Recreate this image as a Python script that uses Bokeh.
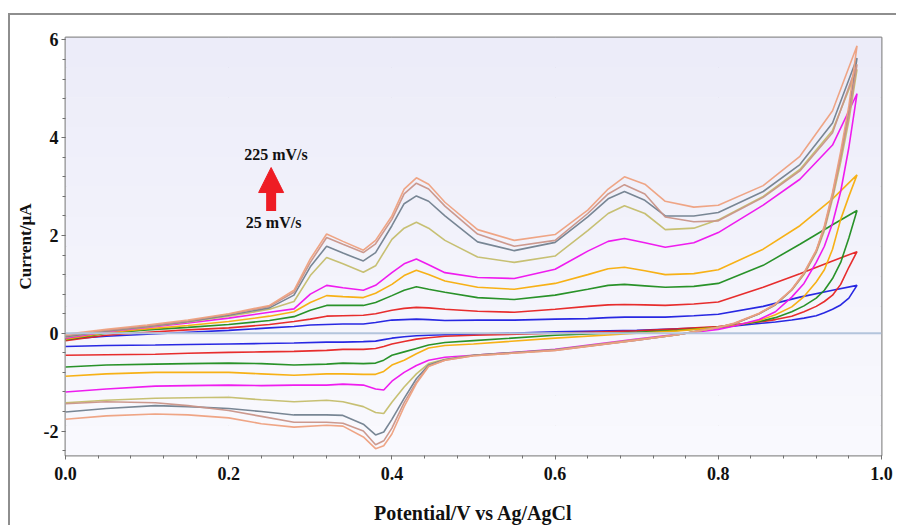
from bokeh.plotting import figure
from bokeh.models import (Range1d, FixedTicker, PrintfTickFormatter, Span, Arrow,
                          NormalHead, Label, BoxAnnotation)
from bokeh.embed import file_html
from bokeh.resources import INLINE

# ---------------- data ----------------
scan_rates = [25, 50, 75, 100, 125, 150, 175, 200, 225]  # mV/s
colors = ["#1c1ce0", "#e62222", "#1e8c1e", "#f7ad0a", "#ee10ee",
          "#c4bd6c", "#71808e", "#c99488", "#eea07e"]

x_fwd = [0.0, 0.05, 0.1, 0.15, 0.2, 0.25, 0.28, 0.30, 0.32, 0.34, 0.365, 0.38, 0.40,
         0.415, 0.43, 0.445, 0.465, 0.505, 0.55, 0.60, 0.64, 0.665, 0.685, 0.71,
         0.735, 0.77, 0.80, 0.855, 0.90, 0.94, 0.97]
x_rev = [0.97, 0.96, 0.95, 0.94, 0.93, 0.92, 0.905, 0.89, 0.87, 0.85, 0.82, 0.80,
         0.75, 0.70, 0.60, 0.50, 0.465, 0.445, 0.43, 0.415, 0.40, 0.39, 0.38, 0.365,
         0.34, 0.32, 0.28, 0.24, 0.20, 0.15, 0.11, 0.05, 0.0]

fwd_25 = [-0.12, -0.06, -0.02, 0.02, 0.06, 0.11, 0.14, 0.17, 0.18, 0.19, 0.19, 0.22, 0.27,
          0.28, 0.29, 0.28, 0.26, 0.27, 0.27, 0.29, 0.30, 0.32, 0.33, 0.33, 0.33, 0.36,
          0.39, 0.55, 0.74, 0.88, 0.98]
fwd_50 = [-0.15, -0.04, 0.02, 0.07, 0.11, 0.18, 0.24, 0.29, 0.35, 0.36, 0.37, 0.40, 0.47,
          0.51, 0.53, 0.52, 0.49, 0.45, 0.43, 0.49, 0.55, 0.58, 0.59, 0.58, 0.57, 0.60,
          0.64, 0.94, 1.22, 1.48, 1.67]
fwd_75 = [-0.13, 0.00, 0.07, 0.12, 0.18, 0.26, 0.34, 0.47, 0.57, 0.57, 0.57, 0.63, 0.77,
          0.88, 0.95, 0.90, 0.84, 0.73, 0.69, 0.78, 0.90, 0.98, 1.00, 0.97, 0.94, 0.96,
          1.02, 1.39, 1.82, 2.22, 2.51]
fwd_100 = [-0.12, 0.01, 0.09, 0.16, 0.24, 0.35, 0.44, 0.63, 0.77, 0.75, 0.73, 0.82, 1.00,
           1.18, 1.29, 1.20, 1.07, 0.94, 0.90, 1.02, 1.20, 1.32, 1.35, 1.28, 1.20, 1.22,
           1.30, 1.72, 2.20, 2.75, 3.24]
fwd_125 = [-0.10, 0.03, 0.12, 0.21, 0.31, 0.43, 0.50, 0.80, 0.98, 0.93, 0.88, 0.98, 1.24,
           1.42, 1.52, 1.40, 1.24, 1.14, 1.12, 1.31, 1.68, 1.88, 1.94, 1.85, 1.76, 1.85,
           2.06, 2.62, 3.15, 3.85, 4.90]
fwd_150 = [-0.08, 0.04, 0.13, 0.23, 0.35, 0.49, 0.65, 1.18, 1.55, 1.42, 1.25, 1.38, 1.92,
           2.15, 2.27, 2.15, 1.90, 1.56, 1.45, 1.58, 2.10, 2.45, 2.61, 2.45, 2.12, 2.15,
           2.32, 2.80, 3.35, 4.15, 5.40]
fwd_175 = [-0.07, 0.05, 0.14, 0.24, 0.37, 0.52, 0.78, 1.36, 1.78, 1.64, 1.48, 1.65, 2.20,
           2.65, 2.81, 2.70, 2.40, 1.87, 1.69, 1.86, 2.38, 2.75, 2.90, 2.72, 2.40, 2.40,
           2.47, 2.90, 3.45, 4.30, 5.63]
fwd_200 = [-0.05, 0.06, 0.15, 0.25, 0.39, 0.55, 0.84, 1.45, 1.96, 1.82, 1.65, 1.83, 2.33,
           2.85, 3.07, 2.95, 2.60, 2.03, 1.78, 1.90, 2.45, 2.85, 3.04, 2.85, 2.38, 2.28,
           2.30, 2.78, 3.32, 4.10, 5.50]
fwd_225 = [-0.02, 0.08, 0.17, 0.27, 0.40, 0.57, 0.88, 1.52, 2.03, 1.88, 1.70, 1.90, 2.40,
           2.95, 3.18, 3.05, 2.68, 2.12, 1.90, 2.02, 2.52, 2.95, 3.20, 3.05, 2.70, 2.58,
           2.62, 3.02, 3.62, 4.55, 5.88]

rev_25 = [0.98, 0.72, 0.58, 0.49, 0.42, 0.36, 0.31, 0.27, 0.23, 0.20, 0.15, 0.12, 0.09,
          0.06, 0.03, -0.02, -0.03, -0.04, -0.05, -0.07, -0.10, -0.13, -0.16, -0.17, -0.18,
          -0.18, -0.20, -0.21, -0.22, -0.23, -0.24, -0.25, -0.27]
rev_50 = [1.67, 1.35, 1.00, 0.78, 0.65, 0.55, 0.44, 0.35, 0.28, 0.23, 0.18, 0.14, 0.09,
          0.05, 0.00, -0.04, -0.06, -0.09, -0.12, -0.17, -0.22, -0.27, -0.31, -0.33, -0.33,
          -0.35, -0.37, -0.38, -0.39, -0.41, -0.43, -0.44, -0.45]
rev_75 = [2.51, 1.95, 1.45, 1.12, 0.88, 0.72, 0.56, 0.44, 0.32, 0.24, 0.16, 0.12, 0.06,
          0.02, -0.04, -0.15, -0.19, -0.24, -0.31, -0.38, -0.45, -0.55, -0.61, -0.62, -0.61,
          -0.63, -0.65, -0.62, -0.61, -0.62, -0.63, -0.65, -0.69]
rev_100 = [3.24, 2.80, 2.33, 1.72, 1.30, 1.05, 0.75, 0.54, 0.38, 0.26, 0.16, 0.12, 0.05,
           0.00, -0.10, -0.22, -0.25, -0.30, -0.42, -0.55, -0.65, -0.78, -0.84, -0.84, -0.83,
           -0.83, -0.86, -0.83, -0.80, -0.80, -0.80, -0.83, -0.88]
rev_125 = [4.90, 3.80, 2.90, 2.25, 1.78, 1.45, 1.02, 0.74, 0.44, 0.28, 0.15, 0.08, -0.02,
           -0.12, -0.33, -0.45, -0.49, -0.55, -0.66, -0.80, -0.98, -1.16, -1.14, -1.06, -1.04,
           -1.06, -1.06, -1.07, -1.06, -1.07, -1.08, -1.14, -1.20]
rev_150 = [5.40, 4.35, 3.50, 2.75, 2.10, 1.65, 1.20, 0.88, 0.58, 0.40, 0.20, 0.12, -0.03,
           -0.13, -0.34, -0.45, -0.53, -0.62, -0.83, -1.10, -1.41, -1.64, -1.62, -1.50, -1.40,
           -1.37, -1.40, -1.36, -1.31, -1.32, -1.33, -1.37, -1.42]
rev_175 = [5.63, 4.55, 3.65, 2.84, 2.16, 1.68, 1.22, 0.89, 0.59, 0.40, 0.20, 0.12, -0.03,
           -0.14, -0.34, -0.45, -0.54, -0.65, -0.93, -1.33, -1.76, -2.02, -2.08, -1.86, -1.68,
           -1.67, -1.67, -1.60, -1.54, -1.50, -1.48, -1.54, -1.61]
rev_200 = [5.50, 4.45, 3.60, 2.80, 2.15, 1.68, 1.22, 0.89, 0.59, 0.40, 0.20, 0.12, -0.03,
           -0.14, -0.35, -0.46, -0.55, -0.67, -1.00, -1.42, -1.94, -2.20, -2.28, -2.00, -1.84,
           -1.82, -1.82, -1.70, -1.58, -1.48, -1.42, -1.40, -1.44]
rev_225 = [5.88, 4.65, 3.72, 2.88, 2.20, 1.70, 1.24, 0.90, 0.60, 0.41, 0.21, 0.12, -0.03,
           -0.14, -0.35, -0.46, -0.55, -0.68, -1.03, -1.50, -2.06, -2.30, -2.36, -2.12, -1.90,
           -1.88, -1.92, -1.85, -1.73, -1.67, -1.65, -1.69, -1.76]

forward = [fwd_25, fwd_50, fwd_75, fwd_100, fwd_125, fwd_150, fwd_175, fwd_200, fwd_225]
reverse = [rev_25, rev_50, rev_75, rev_100, rev_125, rev_150, rev_175, rev_200, rev_225]

x_ticks = [0.0, 0.2, 0.4, 0.6, 0.8, 1.0]
y_ticks = [-2, 0, 2, 4, 6]
label_high = "225 mV/s"
label_low = "25 mV/s"

# ---------------- figure ----------------
FONT = "Liberation Serif"
p = figure(width=888, height=512, x_range=Range1d(0.0, 1.0), y_range=Range1d(-2.5, 6.05),
           output_backend="svg", toolbar_location=None,
           min_border_left=55, min_border_right=17, min_border_top=22, min_border_bottom=72)
p.styles = {"margin-top": "13px", "margin-left": "8px",
            "border-top": "2px solid #8e8e8e", "border-left": "2px solid #8e8e8e"}

p.background_fill_color = "#f4f4fb"
p.border_fill_color = "white"
p.outline_line_color = "#8f8f8f"
p.outline_line_width = 2

# soft vertical gradient in plot area
n_bands = 14
ylo, yhi = -2.5, 6.05
for i in range(n_bands):
    t = i / (n_bands - 1)
    r = int(249 - t * 13)
    g = int(249 - t * 13)
    b = int(254 - t * 5)
    b0 = ylo + (yhi - ylo) * i / n_bands
    b1 = ylo + (yhi - ylo) * (i + 1) / n_bands
    p.add_layout(BoxAnnotation(bottom=b0, top=b1, fill_color=(r, g, b), fill_alpha=1.0,
                               line_color=None, level="underlay"))

# axes
p.xaxis.ticker = FixedTicker(ticks=x_ticks,
                             minor_ticks=[round(0.04 * i, 2) for i in range(26)])
p.yaxis.ticker = FixedTicker(ticks=y_ticks,
                             minor_ticks=[round(-2.4 + 0.4 * i, 2) for i in range(22)])
p.xaxis.formatter = PrintfTickFormatter(format="%.1f")
p.yaxis.formatter = PrintfTickFormatter(format="%d")
for ax in (p.xaxis, p.yaxis):
    ax.axis_line_color = None
    ax.major_tick_line_color = "#707070"
    ax.minor_tick_line_color = "#707070"
    ax.major_tick_in = 0
    ax.major_tick_out = 4
    ax.minor_tick_in = 0
    ax.minor_tick_out = 3
    ax.major_label_text_font = FONT
    ax.major_label_text_font_style = "bold"
    ax.major_label_text_font_size = "18px"
    ax.major_label_text_color = "#111111"
    ax.axis_label_text_font = FONT
    ax.axis_label_text_font_style = "bold"
    ax.axis_label_text_color = "#111111"
p.xaxis.major_label_standoff = 7
p.yaxis.major_label_standoff = 3
p.xaxis.axis_label = "Potential/V vs Ag/AgCl"
p.xaxis.axis_label_text_font_size = "20px"
p.xaxis.axis_label_standoff = 19
p.yaxis.axis_label = "Current/µA"
p.yaxis.axis_label_text_font_size = "17px"
p.yaxis.axis_label_standoff = 6

p.xgrid.ticker = FixedTicker(ticks=x_ticks)
p.ygrid.ticker = FixedTicker(ticks=y_ticks)
for gr in (p.xgrid, p.ygrid):
    gr.grid_line_color = "#a8a8b0"
    gr.grid_line_dash = "1 2"
    gr.grid_line_width = 1

p.add_layout(Span(location=0, dimension="width", line_color="#b3c4dc", line_width=2))

# curves
for rate, col, f, r in zip(scan_rates, colors, forward, reverse):
    xs = x_fwd + x_rev[1:]
    ys = f + r[1:]
    p.line(xs, ys, line_color=col, line_width=1.6, line_alpha=0.95)

# annotation
p.add_layout(Arrow(end=NormalHead(size=25, fill_color="#ee1c24", line_color="#ee1c24"),
                   x_start=0.252, y_start=2.5, x_end=0.252, y_end=3.39,
                   line_color="#ee1c24", line_width=10))
p.add_layout(Label(x=0.219, y=3.65, text=label_high, text_font=FONT, text_font_style="bold",
                   text_font_size="16px", text_baseline="middle", text_color="#111111"))
p.add_layout(Label(x=0.221, y=2.27, text=label_low, text_font=FONT, text_font_style="bold",
                   text_font_size="16px", text_baseline="middle", text_color="#111111"))

open("out.html", "w").write(file_html(p, INLINE))
